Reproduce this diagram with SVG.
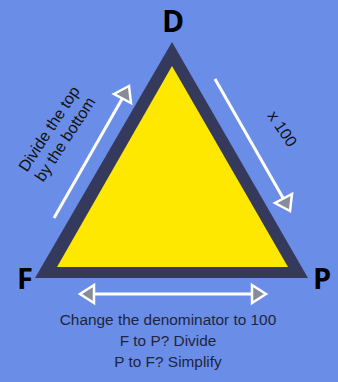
<svg xmlns="http://www.w3.org/2000/svg" width="338" height="382" viewBox="0 0 338 382">
<defs>
<style>
.lbl{font-family:"Open Sans","Liberation Sans",sans-serif;font-weight:bold;fill:#000;}
.txt{font-family:"Liberation Sans","Open Sans",sans-serif;fill:#1f2440;text-anchor:middle;}
.rot{font-family:"Liberation Sans","Open Sans",sans-serif;fill:#111;text-anchor:middle;}
.arr{stroke:#fff;stroke-width:3;fill:none;}
.head{fill:#868c98;stroke:#fff;stroke-width:2.5;stroke-linejoin:miter;}
</style>
</defs>
<rect width="338" height="382" fill="#6a8ee8"/>
<g id="triangle">
<polygon points="172,42 35,278 308,278" fill="#353a5c"/>
<polygon points="172,66 57,267 288,267" fill="#ffe800"/>
</g>
<g id="node-D"><text class="lbl" x="173" y="32" font-size="30" text-anchor="middle">D</text></g>
<g id="node-F"><text class="lbl" x="25" y="289" font-size="29" text-anchor="middle">F</text></g>
<g id="node-P"><text class="lbl" x="322" y="289" font-size="29" text-anchor="middle">P</text></g>
<g id="connectors">
<line class="arr" x1="54" y1="218" x2="122" y2="99"/>
<polygon class="head" points="129,86 114,94 131,103"/>
<line class="arr" x1="215" y1="79" x2="283" y2="198"/>
<polygon class="head" points="290,211 275,203 292,194"/>
<line class="arr" x1="94" y1="294" x2="252" y2="294"/>
<polygon class="head" points="80,294 94,285 94,303"/>
<polygon class="head" points="266,294 252,285 252,303"/>
</g>
<g id="label-left" transform="translate(57,134) rotate(-57)">
<text class="rot" x="0" y="-4" font-size="16">Divide the top</text>
<text class="rot" x="0" y="15" font-size="16">by the bottom</text>
</g>
<g id="label-right" transform="translate(282,129) rotate(56)">
<text class="rot" x="0" y="5" font-size="16">x 100</text>
</g>
<g id="caption">
<text class="txt" x="168" y="325" font-size="15.4">Change the denominator to 100</text>
<text class="txt" x="168" y="346" font-size="15.4">F to P? Divide</text>
<text class="txt" x="168" y="367" font-size="15.4">P to F? Simplify</text>
</g>
</svg>
